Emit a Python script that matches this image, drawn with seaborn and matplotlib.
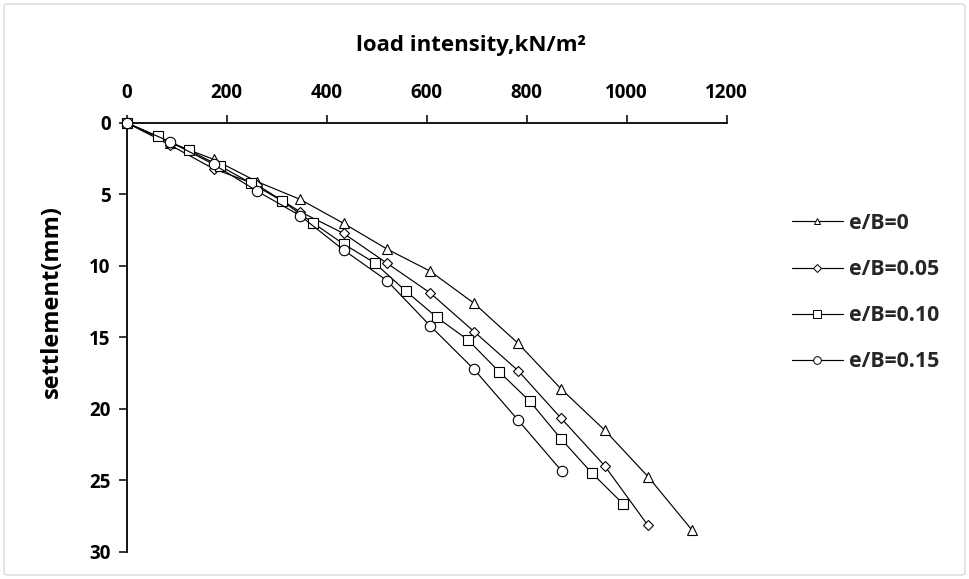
import matplotlib
matplotlib.use("Agg")
import matplotlib.pyplot as plt
from matplotlib.lines import Line2D
from matplotlib.patches import FancyBboxPatch
import seaborn as sns
import pandas as pd

# Load intensity (kN/m²) and settlement (mm) for each eccentricity ratio
load_e000 = [0, 87, 174, 261, 347, 434, 521, 607, 695, 783, 869, 956, 1043, 1131]
settle_e000 = [0, 1.40, 2.56, 4.12, 5.36, 7.04, 8.84, 10.38, 12.63, 15.43, 18.62, 21.50, 24.76, 28.50]

load_e005 = [0, 87, 174, 261, 347, 434, 521, 607, 695, 783, 869, 956, 1043]
settle_e005 = [0, 1.56, 3.22, 4.35, 6.22, 7.74, 9.83, 11.90, 14.61, 17.34, 20.67, 23.99, 28.18]

load_e010 = [0, 62, 124, 187, 248, 310, 372, 434, 496, 558, 620, 683, 745, 807, 869, 931, 993]
settle_e010 = [0, 0.96, 1.92, 3.03, 4.21, 5.45, 6.99, 8.48, 9.80, 11.76, 13.60, 15.20, 17.41, 19.50, 22.12, 24.52, 26.66]

load_e015 = [0, 87, 174, 261, 347, 434, 521, 607, 695, 783, 870]
settle_e015 = [0, 1.33, 2.91, 4.78, 6.50, 8.90, 11.05, 14.20, 17.25, 20.80, 24.35]

series_labels = ["e/B=0", "e/B=0.05", "e/B=0.10", "e/B=0.15"]
x_ticks = [0, 200, 400, 600, 800, 1000, 1200]
y_ticks = [0, 5, 10, 15, 20, 25, 30]

FONT = ["Open Sans", "DejaVu Sans"]
FS_TICK = 13.5
FS_LEGEND = 15.3

sns.set_theme(style="white")
plt.rcParams["font.family"] = FONT
plt.rcParams["font.weight"] = "bold"

W, H = 969, 579
fig = plt.figure(figsize=(W / 100, H / 100), dpi=100)
fig.patch.set_facecolor("white")

# plot area in pixel coordinates
x0, x1 = 126.5, 726.5
y_top, y_bot = 122.7, 551.5
ax = fig.add_axes([x0 / W, 1 - y_bot / H, (x1 - x0) / W, (y_bot - y_top) / H])
ax.set_facecolor("white")

series = [
    (load_e000, settle_e000, "^", 7.5),
    (load_e005, settle_e005, "D", 5.2),
    (load_e010, settle_e010, "s", 7.0),
    (load_e015, settle_e015, "o", 7.5),
]

for (xs, ys, mk, ms), lab in zip(series, series_labels):
    df = pd.DataFrame({"load": xs, "settlement": ys})
    sns.lineplot(data=df, x="load", y="settlement", ax=ax, sort=False,
                 color="black", linewidth=0.85, marker=mk, markersize=ms,
                 markerfacecolor="white", markeredgecolor="black",
                 markeredgewidth=0.8, legend=False, clip_on=False, zorder=3)

ax.set_xlim(0, 1200)
ax.set_ylim(30, 0)
ax.set_xticks(x_ticks)
ax.set_yticks(y_ticks)
ax.set_xlabel("")
ax.set_ylabel("")

ax.xaxis.tick_top()
for side in ["right", "bottom"]:
    ax.spines[side].set_visible(False)
for side in ["top", "left"]:
    ax.spines[side].set_color("black")
    ax.spines[side].set_linewidth(1.3)
    ax.spines[side].set_zorder(2)

ax.tick_params(axis="x", which="both", direction="out", length=5.5, width=1.1,
               color="black", pad=8.5, labelsize=FS_TICK, labelcolor="black",
               top=True, bottom=False, labeltop=True, labelbottom=False)
ax.tick_params(axis="y", which="both", direction="out", length=5.5, width=1.1,
               color="black", pad=6, labelsize=FS_TICK, labelcolor="black", left=True)
for lbl in ax.get_xticklabels() + ax.get_yticklabels():
    lbl.set_fontweight("bold")
    lbl.set_family(FONT)

fig.text(471 / W, 1 - 45 / H, "load intensity,kN/m\u00b2", ha="center", va="center",
         fontsize=16, fontweight="bold", color="black", family=FONT)
fig.text(52 / W, 1 - 302 / H, "settlement(mm)", ha="center", va="center",
         rotation=90, fontsize=17, fontweight="bold", color="black", family=FONT)

handles = [
    Line2D([], [], color="black", linewidth=0.85, marker="^", markersize=5,
           markerfacecolor="white", markeredgecolor="black", markeredgewidth=0.7),
    Line2D([], [], color="black", linewidth=0.85, marker="D", markersize=4,
           markerfacecolor="white", markeredgecolor="black", markeredgewidth=0.7),
    Line2D([], [], color="black", linewidth=0.85, marker="s", markersize=5.5,
           markerfacecolor="white", markeredgecolor="black", markeredgewidth=0.7),
    Line2D([], [], color="black", linewidth=0.85, marker="o", markersize=5.5,
           markerfacecolor="white", markeredgecolor="black", markeredgewidth=0.7),
]
fig.legend(handles, series_labels, loc="center left",
           bbox_to_anchor=(791.7 / W, 1 - 292.5 / H), frameon=False,
           prop={"family": FONT, "weight": "bold", "size": FS_LEGEND},
           handlelength=2.4, handletextpad=0.3, labelspacing=1.18,
           borderpad=0, borderaxespad=0)

# chart border
border = FancyBboxPatch((4 / W, 4 / H), (W - 8) / W, (H - 8) / H,
                        boxstyle="round,pad=0,rounding_size=0.004",
                        transform=fig.transFigure, fill=False,
                        edgecolor="#d9d9d9", linewidth=1.0)
fig.patches.append(border)

fig.savefig("out.png", dpi=100, facecolor="white")
